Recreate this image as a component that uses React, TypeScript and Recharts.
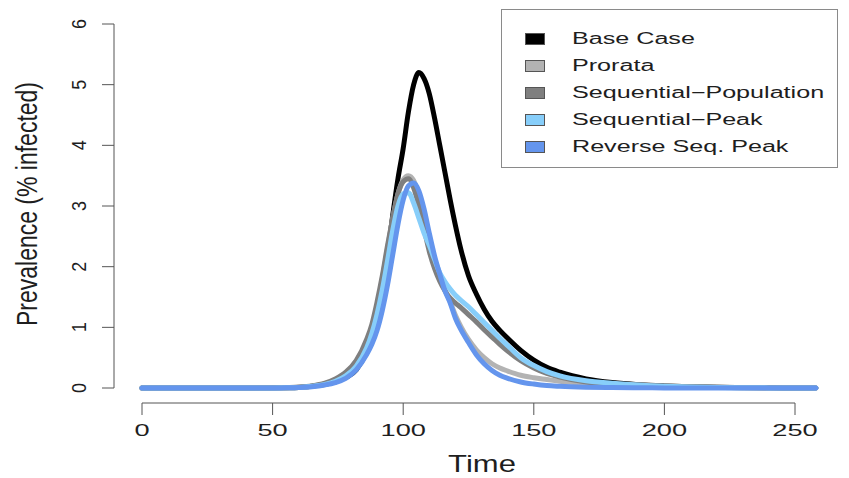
import React from "react";
import { LineChart, Line, XAxis, YAxis, ReferenceLine } from "recharts";

// time points (days) and prevalence (% infected) per strategy
const TIME = [
  0, 10, 20, 30, 40, 50,
  55, 60, 65, 70, 74, 78, 82, 86,
  88, 90, 92, 94, 96, 98, 100, 102, 104, 106, 108, 110, 112, 114, 116, 118, 120, 122,
  125, 128, 131, 134, 137, 140,
  145, 150, 155, 160,
  170, 180, 190, 200, 210, 220, 230, 240, 250, 258,
];

const BASE_CASE = [
  0, 0, 0, 0, 0, 0.002,
  0.005, 0.01, 0.03, 0.06, 0.1, 0.17, 0.3, 0.6,
  0.85, 1.2, 1.65, 2.2, 2.85, 3.45, 3.95, 4.55, 5.0, 5.2, 5.1, 4.85, 4.45, 4.0, 3.55, 3.1, 2.68, 2.3,
  1.85, 1.55, 1.3, 1.1, 0.95, 0.82,
  0.62, 0.46, 0.34, 0.26,
  0.15, 0.09, 0.055, 0.035, 0.022, 0.013, 0.007, 0.003, 0.001, 0,
];

const PRORATA = [
  0, 0, 0, 0, 0, 0.002,
  0.005, 0.012, 0.03, 0.07, 0.13, 0.22, 0.4, 0.75,
  1.0, 1.35, 1.8, 2.3, 2.8, 3.2, 3.43, 3.5, 3.42, 3.15, 2.8, 2.45, 2.1, 1.85, 1.62, 1.42, 1.2, 1.02,
  0.8, 0.63, 0.5, 0.4, 0.33, 0.28,
  0.21, 0.17, 0.14, 0.11,
  0.08, 0.06, 0.045, 0.03, 0.02, 0.01, 0.005, 0.002, 0.001, 0,
];

const SEQ_POPULATION = [
  0, 0, 0, 0, 0, 0.003,
  0.006, 0.015, 0.035, 0.08, 0.15, 0.26, 0.45, 0.8,
  1.05, 1.42, 1.85, 2.35, 2.8, 3.2, 3.4, 3.45, 3.3, 3.0, 2.62, 2.25, 1.97, 1.76, 1.6, 1.48, 1.4, 1.33,
  1.21, 1.09, 0.96, 0.84, 0.72, 0.61,
  0.45, 0.33, 0.24, 0.18,
  0.1, 0.07, 0.05, 0.035, 0.022, 0.012, 0.006, 0.003, 0.001, 0,
];

const SEQ_PEAK = [
  0, 0, 0, 0, 0, 0.002,
  0.004, 0.01, 0.03, 0.06, 0.11, 0.2, 0.36, 0.66,
  0.9, 1.22, 1.62, 2.1, 2.6, 3.0, 3.2, 3.22, 3.05, 2.8, 2.55, 2.35, 2.12, 1.9, 1.75, 1.63, 1.53, 1.45,
  1.34, 1.21, 1.08, 0.95, 0.82, 0.7,
  0.5, 0.37, 0.27, 0.2,
  0.12, 0.08, 0.05, 0.03, 0.018, 0.01, 0.005, 0.002, 0.001, 0,
];

const REVERSE_SEQ_PEAK = [
  0, 0, 0, 0, 0, 0.001,
  0.003, 0.008, 0.02, 0.05, 0.09, 0.16, 0.3, 0.55,
  0.72, 0.95, 1.28, 1.7, 2.2, 2.7, 3.1, 3.33, 3.38, 3.25, 2.95, 2.55, 2.18, 1.88, 1.6, 1.4, 1.15, 0.97,
  0.75, 0.55, 0.4, 0.29, 0.21, 0.16,
  0.1, 0.065, 0.04, 0.028,
  0.014, 0.008, 0.004, 0.002, 0.001, 0, 0, 0, 0, 0,
];

const SERIES = [
  { key: "base", name: "Base Case", color: "#000000", values: BASE_CASE },
  { key: "prorata", name: "Prorata", color: "#b3b3b3", values: PRORATA },
  { key: "seqPop", name: "Sequential\u2212Population", color: "#7f7f7f", values: SEQ_POPULATION },
  { key: "seqPeak", name: "Sequential\u2212Peak", color: "#87cefa", values: SEQ_PEAK },
  { key: "revPeak", name: "Reverse Seq. Peak", color: "#6495ed", values: REVERSE_SEQ_PEAK },
];

const X_TICKS = [0, 50, 100, 150, 200, 250];
const Y_TICKS = [0, 1, 2, 3, 4, 5, 6];

// R-style plot region: axes sit a bit outside the data range
const X_DOMAIN: [number, number] = [-10.72, 266.46];
const Y_DOMAIN: [number, number] = [-0.247, 6];

const FONT = '"Liberation Sans", Arial, Helvetica, sans-serif';
const INK = "#1e1e1e";
const AXIS = "#555";

const rows = TIME.map((t, i) => {
  const r: Record<string, number> = { time: t };
  SERIES.forEach((s) => (r[s.key] = s.values[i]));
  return r;
});

function XTick({ x, y, payload }: any) {
  return (
    <text
      transform={`translate(${x},${y + 19}) scale(1.6,1)`}
      textAnchor="middle"
      fontSize={17}
      fontFamily={FONT}
      fill={INK}
    >
      {payload.value}
    </text>
  );
}

function YTick({ x, y, payload }: any) {
  return (
    <text
      transform={`translate(${x - 14},${y}) scale(1.1,1) rotate(-90)`}
      textAnchor="middle"
      fontSize={18}
      fontFamily={FONT}
      fill={INK}
    >
      {payload.value}
    </text>
  );
}

function TimeLabel({ viewBox }: any) {
  const cx = viewBox.x + viewBox.width / 2 + 6;
  return (
    <text
      transform={`translate(${cx},${viewBox.y + 69}) scale(1.35,1)`}
      textAnchor="middle"
      fontSize={23}
      fontFamily={FONT}
      fill={INK}
    >
      Time
    </text>
  );
}

function PrevalenceLabel({ viewBox }: any) {
  return (
    <text
      transform={`translate(${viewBox.x + 23},${viewBox.y + 180}) scale(1.3,1) rotate(-90)`}
      textAnchor="middle"
      fontSize={23}
      fontFamily={FONT}
      fill={INK}
    >
      Prevalence (% infected)
    </text>
  );
}

function LegendBox() {
  return (
    <div
      style={{
        position: "absolute",
        left: 501,
        top: 9,
        width: 337,
        height: 159,
        boxSizing: "border-box",
        border: "1.5px solid #8a8a8a",
        background: "#fff",
      }}
    >
      {SERIES.map((s, i) => {
        const cy = 29 + 27 * i;
        return (
          <React.Fragment key={s.key}>
            <div
              style={{
                position: "absolute",
                left: 23,
                top: cy - 6,
                width: 20,
                height: 12,
                boxSizing: "border-box",
                background: s.color,
                border: "1px solid #555",
              }}
            />
            <div
              style={{
                position: "absolute",
                left: 70,
                top: cy - 11,
                height: 22,
                lineHeight: "22px",
                whiteSpace: "nowrap",
                fontFamily: FONT,
                fontSize: 16,
                color: INK,
                transform: "scaleX(1.57)",
                transformOrigin: "left center",
              }}
            >
              {s.name}
            </div>
          </React.Fragment>
        );
      })}
    </div>
  );
}

export default function App() {
  return (
    <div style={{ position: "absolute", left: 0, top: 0, width: 849, height: 478, background: "#fff" }}>
      <LineChart
        width={849}
        height={478}
        data={rows}
        margin={{ top: 24, right: 11, bottom: 0, left: 14 }}
      >
        <XAxis
          dataKey="time"
          type="number"
          domain={X_DOMAIN}
          allowDataOverflow
          ticks={X_TICKS}
          interval={0}
          height={75}
          axisLine={false}
          tickLine={{ stroke: AXIS, strokeWidth: 1 }}
          tickSize={12}
          tick={<XTick />}
          label={TimeLabel}
        />
        <YAxis
          type="number"
          domain={Y_DOMAIN}
          allowDataOverflow
          ticks={Y_TICKS}
          interval={0}
          width={100}
          axisLine={false}
          tickLine={{ stroke: AXIS, strokeWidth: 1 }}
          tickSize={12}
          tick={<YTick />}
          label={PrevalenceLabel}
        />
        <ReferenceLine
          segment={[{ x: X_TICKS[0], y: Y_DOMAIN[0] }, { x: X_TICKS[X_TICKS.length - 1], y: Y_DOMAIN[0] }]}
          stroke={AXIS}
          strokeWidth={1}
          ifOverflow="visible"
        />
        <ReferenceLine
          segment={[{ x: X_DOMAIN[0], y: Y_TICKS[0] }, { x: X_DOMAIN[0], y: Y_TICKS[Y_TICKS.length - 1] }]}
          stroke={AXIS}
          strokeWidth={1}
          ifOverflow="visible"
        />
        {SERIES.map((s) => (
          <Line
            key={s.key}
            dataKey={s.key}
            name={s.name}
            type="monotone"
            stroke={s.color}
            strokeWidth={5}
            strokeLinecap="round"
            strokeLinejoin="round"
            dot={false}
            activeDot={false}
            isAnimationActive={false}
          />
        ))}
      </LineChart>
      <LegendBox />
    </div>
  );
}
